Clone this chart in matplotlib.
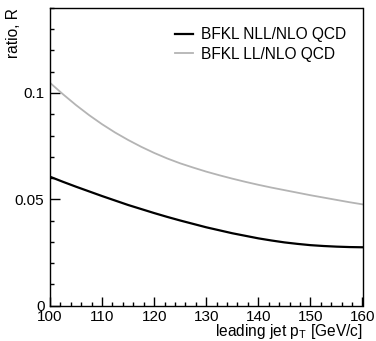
import matplotlib
matplotlib.use("Agg")
import matplotlib.pyplot as plt
from matplotlib.ticker import MultipleLocator, FixedLocator

plt.rcParams['font.family'] = ['Liberation Sans', 'DejaVu Sans']
plt.rcParams['mathtext.fontset'] = 'custom'
plt.rcParams['mathtext.rm'] = 'Liberation Sans'
plt.rcParams['mathtext.it'] = 'Liberation Sans'

pt = [100, 102.5, 105, 107.5, 110, 112.5, 115, 117.5, 120, 122.5, 125, 127.5, 130,
      132.5, 135, 137.5, 140, 142.5, 145, 147.5, 150, 152.5, 155, 157.5, 160]
nll = [0.0606, 0.0582, 0.0559, 0.0537, 0.0515, 0.0494, 0.0473, 0.0454, 0.0435, 0.0417,
       0.0400, 0.0384, 0.0368, 0.0354, 0.0340, 0.0328, 0.0316, 0.0306, 0.0297, 0.0290,
       0.0284, 0.0280, 0.0277, 0.0275, 0.0274]
ll = [0.1048, 0.0994, 0.0943, 0.0896, 0.0853, 0.0814, 0.0779, 0.0747, 0.0718, 0.0692,
      0.0669, 0.0649, 0.0630, 0.0613, 0.0597, 0.0582, 0.0568, 0.0555, 0.0543, 0.0531,
      0.0519, 0.0508, 0.0497, 0.0486, 0.0476]
labels = ["BFKL NLL/NLO QCD", "BFKL LL/NLO QCD"]

W, H = 376, 341
fig = plt.figure(figsize=(W/100, H/100), dpi=100)
ax = fig.add_axes([50/W, 1-305.5/H, (362.5-50)/W, (305.5-8)/H])

ax.plot(pt, nll, color='black', lw=1.6, label=labels[0], solid_joinstyle='round')
ax.plot(pt, ll, color='#b4b4b4', lw=1.3, label=labels[1], solid_joinstyle='round')

ax.set_xlim(100, 160)
ax.set_ylim(0, 0.14)
ax.xaxis.set_major_locator(MultipleLocator(10))
ax.xaxis.set_minor_locator(MultipleLocator(2))
ax.yaxis.set_major_locator(FixedLocator([0, 0.05, 0.1]))
ax.yaxis.set_minor_locator(MultipleLocator(0.01))
ax.set_yticklabels(['0', '0.05', '0.1'])

for s in ax.spines.values():
    s.set_linewidth(1.0)

ax.tick_params(axis='both', which='both', direction='in', top=False, right=False, labelsize=11, width=1.0)
ax.tick_params(axis='x', which='major', length=6.3, pad=3.5)
ax.tick_params(axis='x', which='minor', length=3.1)
ax.tick_params(axis='y', which='major', length=7.2, pad=4)
ax.tick_params(axis='y', which='minor', length=3.1)

fig.text(362.5/W, 1-336/H, r'leading jet p$_{\mathregular{T}}$ [GeV/c]', fontsize=11.2,
         ha='right', va='baseline')
fig.text(13.5/W, 1-8/H, 'ratio, R', fontsize=11.2, rotation=90, ha='center', va='top')

leg = ax.legend(loc='upper left', bbox_to_anchor=(175/W, 1-27/H), bbox_transform=fig.transFigure,
                frameon=False, fontsize=11.2, handlelength=1.16, handletextpad=0.5,
                borderaxespad=0, borderpad=0, labelspacing=0.31)

fig.savefig('out.png', dpi=100)
